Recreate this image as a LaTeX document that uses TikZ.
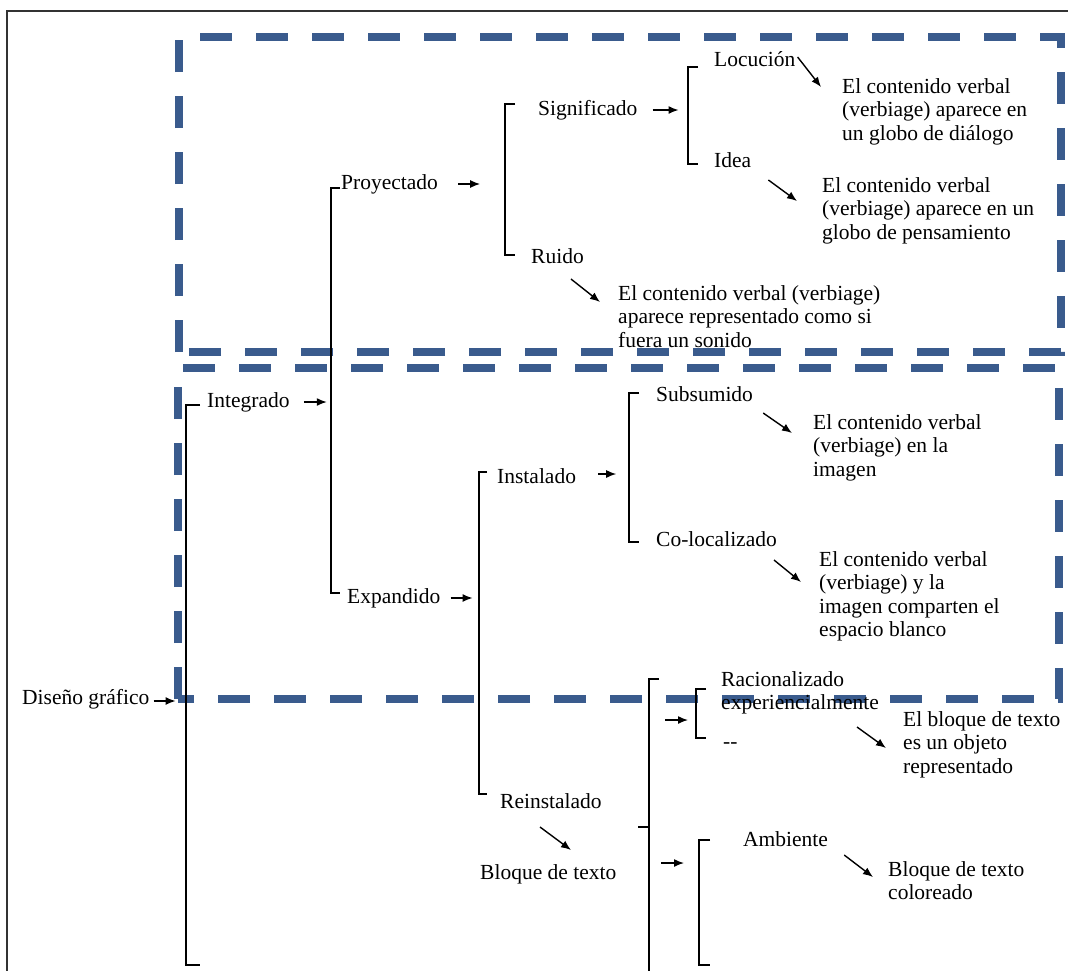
\documentclass[tikz,border=0pt]{standalone}
\usepackage{fontspec}
\setmainfont{Liberation Serif}
\usetikzlibrary{arrows.meta}
\definecolor{boxblue}{HTML}{3A5B8D}
\definecolor{framegray}{HTML}{333333}

\begin{document}
\begin{tikzpicture}[x=1pt,y=-1pt,>=Latex,
 font=\fontsize{21.5}{23.5}\selectfont,
 lbl/.style={anchor=base west,inner sep=0pt},
 desc/.style={lbl,align=left},
 br/.style={line width=1.5pt},
 ar/.style={-{Latex[length=10pt,width=8pt]},line width=1.4pt},
 dbox/.style={draw=boxblue,line width=7.5pt,dash pattern=on 32pt off 24pt}]
 \useasboundingbox (0,0) rectangle (1068,970);
 \draw[framegray,line width=2.5pt] (7,11) rectangle (1090,990);
 % dashed groups
 \draw[dbox] (179,352) -- (179,37) -- (1061,37) -- (1061,352) -- cycle;
 \draw[dbox] (178,699) -- (178,368) -- (1059,368) -- (1059,699) -- cycle;

 % labels (multi-line ones sit on their last baseline)
 \node[lbl] (dis) at (22,704) {Diseño gráfico};
 \node[lbl] (integ) at (207,407) {Integrado};
 \node[lbl] (proy) at (341,189) {Proyectado};
 \node[lbl] (expa) at (347,603) {Expandido};
 \node[lbl] (sig) at (538,115) {Significado};
 \node[lbl] (ruido) at (531,263) {Ruido};
 \node[lbl] (loc) at (714,66) {Locución};
 \node[lbl] (idea) at (714,167) {Idea};
 \node[desc] (d1) at (842,140) {El contenido verbal\\(verbiage) aparece en\\un globo de diálogo};
 \node[desc] (d2) at (822,239) {El contenido verbal\\(verbiage) aparece en un\\globo de pensamiento};
 \node[desc] (d3) at (618,347) {El contenido verbal (verbiage)\\aparece representado como si\\fuera un sonido};
 \node[lbl] (inst) at (497,483) {Instalado};
 \node[lbl] (subs) at (656,401) {Subsumido};
 \node[lbl] (colo) at (656,546) {Co-localizado};
 \node[desc] (d4) at (813,476) {El contenido verbal\\(verbiage) en la\\imagen};
 \node[desc] (d5) at (819,636.5) {El contenido verbal\\(verbiage) y la\\imagen comparten el\\espacio blanco};
 \node[lbl] (reins) at (500,808) {Reinstalado};
 \node[lbl] (bloq) at (480,879) {Bloque de texto};
 \node[desc] (rac) at (721,709.5) {Racionalizado\\experiencialmente};
 \node[lbl] (guion) at (723,748) {-{}-};
 \node[desc] (d6) at (903,773) {El bloque de texto\\es un objeto\\representado};
 \node[lbl] (amb) at (743,846) {Ambiente};
 \node[desc] (d7) at (888,899.5) {Bloque de texto\\coloreado};

 % brackets
 \draw[br] (200,405) -| (186,965) -- (200,965);
 \draw[br] (340,188) -| (331,593) -- (340,593);
 \draw[br] (515,104) -| (505,255) -- (515,255);
 \draw[br] (698,67) -| (688,164) -- (698,164);
 \draw[br] (487,472) -| (479,794) -- (487,794);
 \draw[br] (639,393) -| (629,542) -- (639,542);
 \draw[br] (659,679) -| (649,985);
 \draw[br] (638,827) -- (649,827);
 \draw[br] (706,689) -| (696,738) -- (706,738);
 \draw[br] (710,840) -| (699,965) -- (710,965);

 % arrows
 \draw[ar] ([shift={(4,-3)}]dis.base east) -- +(22,0);
 \draw[ar] ([shift={(14,-5)}]integ.base east) -- +(23,0);
 \draw[ar] ([shift={(20,-5)}]proy.base east) -- +(22,0);
 \draw[ar] ([shift={(10,-5)}]expa.base east) -- +(22,0);
 \draw[ar] ([shift={(15,-5)}]sig.base east) -- +(26,0);
 \draw[ar] ([shift={(22,-9)}]inst.base east) -- +(18,0);
 \draw[ar] ([shift={(-56,10.5)}]rac.base west) -- +(23,0);
 \draw[ar] ([shift={(-82,17)}]amb.base west) -- +(23,0);
 \draw[ar] ([shift={(2,-9)}]loc.base east) -- ([shift={(-21,-53)}]d1.base west);
 \draw[ar] ([shift={(17,13)}]idea.base east) -- ([shift={(-25,-38)}]d2.base west);
 \draw[ar] ([shift={(-13,16)}]ruido.base east) -- ([shift={(-18,-45)}]d3.base west);
 \draw[ar] ([shift={(10,12)}]subs.base east) -- ([shift={(-21,-43)}]d4.base west);
 \draw[ar] ([shift={(-3,14)}]colo.base east) -- ([shift={(-18,-54.5)}]d5.base west);
 \draw[ar] ([shift={(136,17.5)}]rac.base west) -- ([shift={(-17,-25)}]d6.base west);
 \draw[ar] ([shift={(40,19)}]reins.base west) -- ([shift={(91,-29)}]bloq.base west);
 \draw[ar] ([shift={(16,9)}]amb.base east) -- ([shift={(-15,-22.5)}]d7.base west);
\end{tikzpicture}
\end{document}
